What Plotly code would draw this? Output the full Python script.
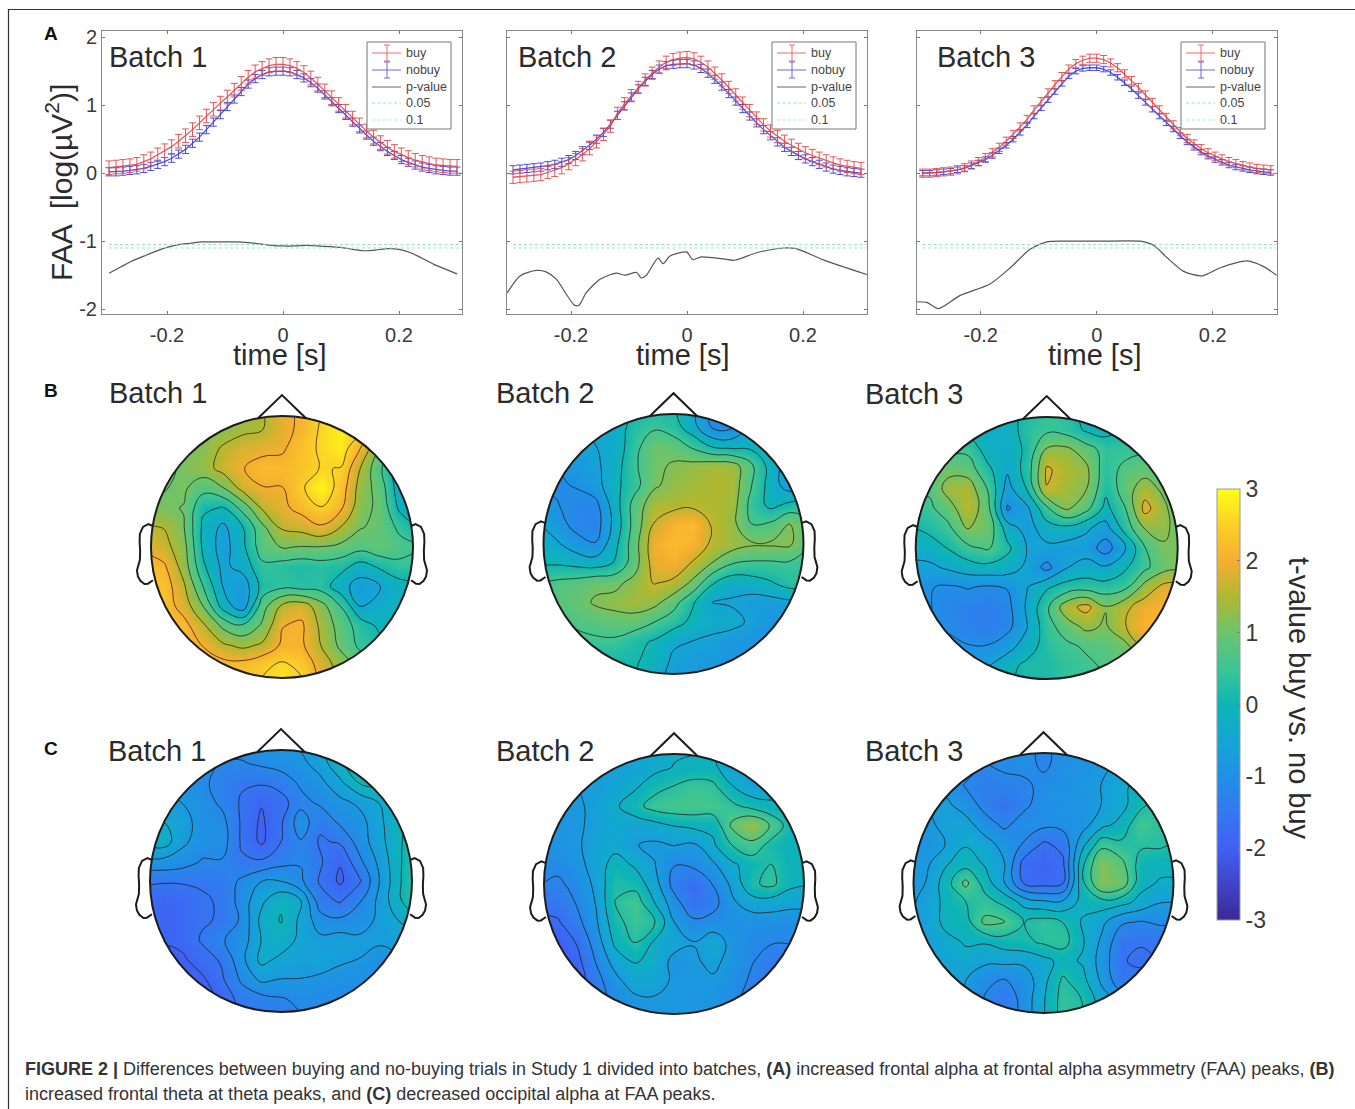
import numpy as np
import plotly.graph_objects as go

W, H = 1355, 1109
FONT = "Liberation Sans"
INK = "#2b2b2b"

# ---------- panel A data ----------
time_s = [-0.300,-0.288,-0.276,-0.264,-0.252,-0.240,-0.228,-0.216,-0.204,-0.192,-0.180,-0.168,-0.156,-0.144,-0.132,-0.120,-0.108,-0.096,-0.084,-0.072,-0.060,-0.048,-0.036,-0.024,-0.012,0.000,
          0.012,0.024,0.036,0.048,0.060,0.072,0.084,0.096,0.108,0.120,0.132,0.144,0.156,0.168,0.180,0.192,0.204,0.216,0.228,0.240,0.252,0.264,0.276,0.288,0.300]

buy_1 = [.08,.09,.10,.11,.13,.17,.21,.27,.33,.39,.47,.55,.64,.74,.84,.94,1.03,1.12,1.22,1.32,1.41,1.49,1.54,1.58,1.60,1.60,
         1.58,1.54,1.48,1.40,1.31,1.21,1.11,1.01,.91,.81,.71,.62,.53,.45,.38,.32,.27,.23,.19,.16,.14,.12,.11,.10,.10]
nobuy_1 = [.02,.02,.03,.04,.05,.07,.10,.13,.17,.22,.28,.35,.44,.53,.64,.75,.86,.98,1.09,1.20,1.31,1.39,1.45,1.49,1.50,1.50,
           1.49,1.45,1.40,1.33,1.25,1.15,1.05,.95,.85,.75,.65,.56,.47,.39,.32,.26,.20,.16,.12,.09,.07,.05,.04,.03,.03]
buy_2 = [-.06,-.05,-.04,-.03,-.02,.01,.04,.08,.14,.20,.27,.36,.46,.57,.69,.88,1.02,1.14,1.26,1.37,1.47,1.56,1.63,1.67,1.69,1.70,
         1.68,1.63,1.56,1.47,1.37,1.26,1.15,1.03,.92,.81,.71,.62,.54,.47,.41,.35,.30,.26,.22,.18,.15,.12,.10,.08,.07]
nobuy_2 = [.05,.06,.07,.08,.09,.11,.13,.16,.20,.26,.33,.41,.50,.60,.72,.85,.99,1.12,1.24,1.35,1.45,1.53,1.58,1.60,1.61,1.61,
           1.59,1.54,1.47,1.38,1.28,1.17,1.06,.95,.84,.74,.64,.55,.46,.38,.32,.26,.21,.17,.13,.09,.06,.04,.02,.01,.00]
buy_3 = [.00,.00,.01,.02,.03,.05,.08,.12,.17,.23,.30,.38,.47,.57,.68,.79,.93,1.05,1.18,1.30,1.42,1.53,1.61,1.66,1.69,1.69,
         1.67,1.62,1.55,1.46,1.36,1.26,1.15,1.04,.93,.82,.71,.61,.51,.43,.36,.30,.25,.21,.17,.14,.11,.09,.07,.06,.05]
nobuy_3 = [.00,.00,.01,.02,.03,.05,.07,.11,.15,.20,.26,.33,.41,.50,.60,.71,.84,.96,1.08,1.20,1.32,1.43,1.50,1.54,1.55,1.55,
           1.53,1.48,1.41,1.33,1.24,1.14,1.04,.94,.84,.74,.65,.55,.46,.38,.31,.25,.20,.16,.12,.09,.07,.05,.03,.02,.01]
se_buy = [0.10, 0.09, 0.06]
se_nobuy = [0.06, 0.06, 0.04]

p_t_1 = [-.30,-.28,-.26,-.24,-.22,-.20,-.18,-.16,-.14,-.12,-.10,-.08,-.06,-.04,-.02,0,.02,.04,.06,.08,.10,.12,.14,.16,.18,.20,.22,.24,.26,.28,.30]
p_1 = [-1.47,-1.38,-1.29,-1.22,-1.15,-1.09,-1.05,-1.03,-1.01,-1.01,-1.01,-1.01,-1.02,-1.04,-1.06,-1.07,-1.07,-1.06,-1.07,-1.08,-1.09,-1.12,-1.14,-1.13,-1.11,-1.12,-1.17,-1.25,-1.34,-1.41,-1.48]
p_t_2 = [-.31,-.288,-.26,-.243,-.225,-.208,-.194,-.186,-.174,-.15,-.122,-.107,-.087,-.079,-.07,-.05,-.041,-.03,-.007,0,.01,.025,.062,.082,.12,.166,.188,.234,.31]
p_2 = [-1.76,-1.51,-1.43,-1.45,-1.56,-1.78,-1.94,-1.94,-1.76,-1.56,-1.47,-1.50,-1.46,-1.54,-1.50,-1.25,-1.33,-1.22,-1.16,-1.16,-1.27,-1.23,-1.26,-1.28,-1.17,-1.10,-1.11,-1.27,-1.49]
p_t_3 = [-.31,-.293,-.273,-.236,-.184,-.149,-.115,-.086,-.052,.006,.075,.098,.121,.149,.181,.213,.259,.287,.31]
p_3 = [-1.89,-1.90,-1.99,-1.80,-1.63,-1.39,-1.12,-1.01,-1.00,-1.00,-1.00,-1.06,-1.24,-1.44,-1.51,-1.39,-1.29,-1.37,-1.50]
threshold_05 = -1.05
threshold_10 = -1.10

legend_labels = ["buy", "nobuy", "p-value", "0.05", "0.1"]
batch_labels = ["Batch 1", "Batch 2", "Batch 3"]
x_tick_vals = [-0.2, 0, 0.2]
x_tick_text = ["-0.2", "0", "0.2"]
y_tick_vals = [-2, -1, 0, 1, 2]
y_tick_text = ["-2", "-1", "0", "1", "2"]

# ---------- topographic t-values, rows from front (top) to back ----------
scalp_axis = [-1.05,-.9,-.75,-.6,-.45,-.3,-.15,0,.15,.3,.45,.6,.75,.9,1.05]

theta_1 = [
[1.0,1.0,1.0,1.0,1.2,1.3,1.5,1.9,2.1,2.5,2.7,2.5,1.0,.5,.3],
[1.0,1.0,1.0,1.1,1.2,1.4,1.5,1.9,2.1,2.6,2.8,2.6,1.2,.5,.3],
[1.0,1.0,1.1,1.2,1.6,1.8,1.9,1.95,2.3,2.6,2.8,2.0,.9,.1,-.2],
[.8,.9,1.1,1.3,1.7,2.0,2.2,2.2,2.3,2.55,2.5,1.5,.6,-.3,-.6],
[.7,1.0,1.1,.7,1.0,1.7,2.0,2.0,2.45,2.9,2.3,1.3,.8,-.3,-.7],
[1.0,1.1,1.0,.1,.0,.7,1.6,1.9,2.2,2.5,2.1,1.2,.9,-.1,-.6],
[1.6,1.5,1.05,-.1,-.6,.0,.9,1.6,1.7,1.95,1.5,1.05,.9,.4,.0],
[1.9,1.7,1.2,-.1,-.7,-.1,.8,1.05,1.0,1.0,.9,.7,.9,.7,.5],
[2.3,2.1,1.3,.1,-.6,-.3,.4,.3,.2,.3,.2,-.2,.1,.4,.4],
[2.3,2.3,1.6,.5,-.5,-.8,.2,.4,.3,.3,-.3,-.7,-.5,-.2,-.1],
[2.3,2.3,1.8,1.0,-.2,-.8,.8,1.6,1.8,1.2,.5,-.5,-.3,-.1,-.1],
[2.3,2.3,2.2,1.6,.9,.6,1.1,2.0,2.1,1.4,.8,.3,-.1,-.1,-.1],
[2.3,2.3,2.2,2.0,1.6,1.4,1.6,2.1,2.1,1.5,.9,.4,.2,.2,.2],
[2.3,2.3,2.3,2.3,2.2,2.2,2.4,2.6,2.4,1.8,1.3,.8,.5,.5,.5],
[2.3,2.3,2.3,2.3,2.3,2.3,2.6,2.8,2.6,1.9,1.3,.9,.5,.5,.5]]

theta_2 = [
[-.5,-.5,-.5,-.4,-.3,.0,.1,.1,-.4,-1.2,-1.2,-.7,-.5,-.5,-.5],
[-.5,-.5,-.5,-.4,-.3,.3,.5,.3,-.3,-1.1,-1.1,-.5,-.5,-.5,-.5],
[-.7,-.7,-.6,-.5,-.3,.4,1.0,.9,.5,.0,-.1,-.1,-.3,-.5,-.5],
[-1.0,-1.0,-.8,-.6,-.2,.5,1.0,1.2,1.3,1.45,1.4,.7,-.2,-.8,-.8],
[-1.1,-1.1,-1.0,-.7,-.1,.4,1.05,1.3,1.4,1.5,1.45,.6,-.2,-.8,-.7],
[-.6,-1.0,-1.2,-1.2,-.2,.8,1.45,1.5,1.55,1.5,1.4,.4,-.1,.2,.3],
[-.4,-.8,-1.2,-1.3,-.3,.8,1.7,2.1,2.2,1.6,1.3,.6,.7,1.2,.7],
[-.3,-.4,-.8,-1.0,-.1,.9,2.0,2.2,2.1,1.55,1.4,1.2,1.2,1.2,.6],
[.0,.0,-.1,-.2,.1,.9,1.9,2.05,1.6,1.1,.6,.5,.5,.5,.4],
[.5,.7,.8,1.0,1.0,1.3,1.7,1.55,1.0,.1,-.3,-.2,.0,.3,.3],
[.6,.8,.9,1.2,1.3,1.4,1.3,.8,.1,-.5,-.55,-.7,-.7,-.6,-.6],
[.5,.5,.7,.8,.9,.9,.6,.3,-.1,-.3,-.3,-.6,-.9,-.9,-.9],
[.2,.2,.4,.5,.5,.2,.0,-.4,-.5,-.6,-.8,-.9,-.9,-.9,-.9],
[.0,.0,.1,.1,.1,.1,-.1,-.6,-.7,-.8,-.9,-1.0,-1.0,-1.0,-1.0],
[.0,.0,.0,.0,.0,.0,-.3,-.7,-.8,-.9,-1.0,-1.0,-1.0,-1.0,-1.0]]

theta_3 = [
[.3,.3,.2,.0,-.2,-.1,.2,.4,.3,-.1,-.2,.1,.3,.3,.3],
[.3,.3,.1,-.1,-.3,-.2,.3,.5,.4,.0,-.1,.2,.3,.3,.3],
[.5,.5,.5,.5,-.2,-.3,.2,1.25,1.3,.9,.4,.4,.5,.3,.2],
[.8,.8,1.0,.9,.2,-.4,.3,1.8,1.5,1.3,.3,.8,.9,.4,.3],
[.8,.7,1.4,1.5,.6,-.7,.1,1.7,1.4,1.2,.2,.9,1.5,1.0,.2],
[.3,.5,.9,1.6,.8,-1.1,-.6,.5,1.25,.8,-.1,.6,1.9,1.3,.5],
[.0,.2,.5,1.2,1.0,-.2,-.7,-.2,-.1,-.4,-.7,.3,1.2,1.3,.8],
[-.3,-.2,.1,.5,.7,.2,-.5,-.6,-.7,-.7,-1.3,-.5,.6,1.1,1.1],
[-.6,-.6,-.4,-.2,-.1,-.2,-.6,-1.2,-.5,-.3,-.4,.0,.5,1.0,1.2],
[-.7,-1.0,-1.1,-1.0,-1.1,-1.0,-.5,.0,.3,.4,.3,.5,1.4,1.9,1.9],
[-.8,-1.0,-1.2,-1.3,-1.4,-1.2,-.4,.5,1.5,1.9,1.2,1.6,2.0,2.1,2.1],
[-.9,-1.0,-1.1,-1.3,-1.4,-1.2,-.5,.4,.9,1.3,1.1,1.7,2.1,2.2,2.2],
[-.9,-.9,-.9,-1.0,-1.0,-.7,-.2,.3,.5,.7,.8,1.0,1.8,1.8,1.8],
[-.8,-.8,-.8,-.7,-.5,-.1,.2,.2,.4,.5,.7,.9,1.0,1.0,1.0],
[-.8,-.8,-.8,-.5,-.3,.0,.2,.2,.4,.5,.6,.8,1.0,1.0,1.0]]

alpha_1 = [
[-1.0,-1.0,-1.0,-1.0,-1.0,-1.0,-.9,-.8,-.7,-.5,.1,.5,.5,.5,.5],
[-1.0,-1.0,-1.0,-1.0,-1.2,-1.2,-1.1,-1.0,-.9,-.6,-.1,.3,.4,.4,.4],
[-.9,-.9,-1.0,-1.1,-1.3,-1.5,-1.5,-1.4,-1.1,-.9,-.5,.0,.1,.1,.1],
[-.7,-.7,-.8,-1.0,-1.25,-1.6,-1.9,-1.7,-1.3,-1.1,-.9,-.7,-.4,-.3,-.2],
[-.4,-.4,-.6,-1.0,-1.05,-1.6,-2.0,-1.6,-.95,-1.45,-1.1,-.95,-.5,-.1,.1],
[-.3,-.2,-.7,-1.0,-1.0,-1.6,-2.0,-1.55,-1.2,-1.6,-1.5,-1.0,-.55,-.1,.3],
[-.9,-.9,-1.0,-1.2,-1.2,-1.5,-1.5,-1.3,-1.2,-1.5,-1.9,-1.25,-.7,-.1,.4],
[-1.5,-1.5,-1.5,-1.5,-1.4,-1.1,-.8,-.8,-1.1,-1.6,-2.0,-1.6,-.8,-.1,.5],
[-1.7,-1.9,-1.8,-1.6,-1.5,-1.0,-.5,-.1,-.4,-1.4,-1.6,-1.2,-.7,-.1,.4],
[-1.7,-1.9,-1.8,-1.6,-1.5,-1.1,-.3,.0,-.5,-1.0,-1.1,-1.0,-.7,-.4,-.1],
[-1.8,-1.9,-1.8,-1.5,-1.2,-1.0,-.4,-.2,-.5,-.7,-.6,-.7,-.7,-.6,-.6],
[-1.9,-2.0,-2.0,-1.7,-1.5,-.9,-.3,-.5,-.6,-.5,-.7,-.8,-1.0,-.9,-.9],
[-2.0,-2.0,-2.1,-2.0,-1.6,-1.1,-.7,-.8,-.8,-.9,-1.0,-1.0,-1.1,-1.0,-1.0],
[-2.0,-2.0,-2.1,-2.2,-1.8,-1.4,-1.3,-1.2,-1.1,-1.1,-1.1,-1.1,-1.1,-1.1,-1.1],
[-2.0,-2.0,-2.1,-2.2,-1.9,-1.5,-1.4,-1.6,-1.2,-1.1,-1.1,-1.1,-1.1,-1.1,-1.1]]

alpha_2 = [
[-.6,-.6,-.6,-.6,-.5,-.4,-.4,-.3,-.3,-.3,-.8,-1.0,-1.0,-1.0,-1.0],
[-.6,-.6,-.6,-.6,-.6,-.5,-.4,-.2,-.1,-.1,-.6,-.9,-.9,-.9,-.9],
[-.7,-.7,-.7,-.7,-.5,-.3,.1,.3,.5,.4,-.2,-.6,-.5,-.5,-.5],
[-.8,-.8,-.8,-.6,-.3,.1,.5,.6,.6,.6,.4,.1,-.1,-.1,-.1],
[-.9,-.9,-.8,-.6,-.4,-.5,-.4,-.2,-.1,-.1,.9,1.4,.7,.0,.0],
[-.9,-.9,-.8,-.5,-.4,-.7,-.8,-.7,-.8,-.3,.3,.6,.1,-.1,-.1],
[-1.0,-1.1,-.9,-.5,.0,-.3,-.7,-1.2,-1.1,-.8,-.3,.0,.3,-.1,-.1],
[-1.2,-1.3,-1.1,-.6,.2,.1,-.5,-1.4,-1.7,-1.2,-.6,.2,.4,-.1,-.2],
[-1.6,-1.5,-1.2,-.7,.3,.6,-.2,-1.0,-1.6,-1.4,-.8,-.5,-.5,-.6,-.6],
[-1.8,-1.8,-1.4,-.8,.1,.5,.3,-.7,-1.1,-1.0,-1.0,-1.0,-1.0,-1.0,-1.0],
[-2.0,-2.0,-1.7,-1.0,-.1,.3,-.3,-.5,-.7,-.4,-.9,-1.1,-1.2,-1.2,-1.2],
[-2.2,-2.2,-1.9,-1.2,-.5,-.2,-.3,-.9,-.8,-.6,-.9,-1.2,-1.4,-1.5,-1.5],
[-2.2,-2.2,-2.0,-1.4,-.9,-.4,-.5,-.8,-.8,-.8,-1.0,-1.3,-1.5,-1.6,-1.6],
[-2.0,-2.0,-1.8,-1.4,-1.1,-.9,-.8,-.8,-.8,-.9,-1.1,-1.4,-1.5,-1.5,-1.5],
[-2.0,-2.0,-1.8,-1.4,-1.1,-1.0,-.9,-.8,-.8,-.9,-1.1,-1.3,-1.4,-1.4,-1.4]]

alpha_3 = [
[-1.0,-1.0,-1.0,-1.0,-1.0,-1.1,-1.0,-1.3,-1.0,-1.0,-.9,-.7,-.5,-.3,-.3],
[-1.0,-1.0,-1.0,-1.0,-1.2,-1.1,-1.0,-1.25,-1.0,-.95,-.8,-.6,-.3,-.1,-.1],
[-.9,-.9,-.9,-1.2,-1.4,-1.3,-1.3,-1.0,-1.0,-.8,-.7,-.4,.0,.3,.3],
[-.7,-.7,-.6,-.95,-1.3,-1.6,-1.25,-1.0,-.95,-.9,-.7,-.4,.1,.5,.5],
[-.8,-.8,-.6,-.5,-1.0,-1.25,-1.0,-1.05,-1.0,-.9,-.4,-.1,.6,.3,.3],
[-1.0,-.9,-.7,-.3,-.5,-.9,-1.2,-1.7,-1.5,-.4,.5,.3,.3,.3,.1],
[-.9,-.8,-.3,.0,-.3,-.7,-1.8,-1.9,-1.7,.1,1.2,.8,.0,-.1,-.1],
[-.8,-.7,.0,.8,.0,-.7,-1.68,-1.8,-1.65,.1,1.2,1.0,-.1,-.3,-.3],
[-.8,-.6,-.1,.2,.4,.1,-.4,-.6,-.6,-.1,.0,-.1,-.4,-.7,-.7],
[-.8,-.6,-.1,.0,.8,.7,.2,.4,.2,-.3,-.6,-1.1,-1.2,-1.1,-1.1],
[-.8,-.6,-.4,-.2,-.2,.0,.1,.3,.4,-.2,-.8,-1.5,-1.6,-1.5,-1.5],
[-.8,-.7,-.5,-.4,-.6,-.6,-.6,-.4,-.1,-.3,-.9,-1.6,-1.7,-1.6,-1.6],
[-.7,-.6,-.5,-.7,-1.1,-1.2,-1.0,-.4,.3,-.1,-.8,-1.5,-1.5,-1.5,-1.5],
[-.6,-.6,-.5,-.7,-1.2,-1.5,-1.0,-.3,.4,.2,-.5,-.9,-1.0,-1.0,-1.0],
[-.6,-.6,-.5,-.7,-1.2,-1.4,-1.0,-.3,.4,.2,-.4,-.8,-.9,-.9,-.9]]

cbar_ticks = [-3, -2, -1, 0, 1, 2, 3]
cbar_tick_text = ["-3", "-2", "-1", "0", "1", "2", "3"]
cbar_title = "t-value buy vs. no buy"

parula_like = [[0.0,"#3A2A95"],[1/12,"#4044C8"],[2/12,"#4060F5"],[3/12,"#3478F0"],[4/12,"#2090E5"],[5/12,"#14A5D5"],
               [6/12,"#0DB5B5"],[7/12,"#3CC595"],[8/12,"#6CC46C"],[9/12,"#B0B830"],[10/12,"#F5AE30"],[11/12,"#FBD028"],[1.0,"#FFFF14"]]

def px(x): return x / W
def py(y): return 1 - y / H

fig = go.Figure()
layout = dict(width=W, height=H, paper_bgcolor="white", plot_bgcolor="white", showlegend=False,
              margin=dict(l=0, r=0, t=0, b=0, autoexpand=False), font=dict(family=FONT, color=INK))
shapes, annots = [], []

def text(x, y, s, size, anchor="left", color=INK, angle=0):
    if anchor == "left":
        x -= 2
    annots.append(dict(x=px(x), y=py(y), xref="paper", yref="paper", text=s, showarrow=False, xanchor=anchor, yanchor="middle",
                       font=dict(family=FONT, size=size, color=color), textangle=angle, align="left"))

def pline(x0, y0, x1, y1, color, width=1, dash="solid"):
    shapes.append(dict(type="line", xref="paper", yref="paper", x0=px(x0), y0=py(y0), x1=px(x1), y1=py(y1),
                       line=dict(color=color, width=width, dash=dash)))

axis_no = 0
def next_axes():
    global axis_no
    axis_no += 1
    s = "" if axis_no == 1 else str(axis_no)
    return "x" + s, "y" + s, "xaxis" + s, "yaxis" + s

# ---------- panel A ----------
RED, BLUE = "rgba(226,70,70,0.9)", "rgba(60,60,214,0.9)"
DASH = "3px,2.5px"
panel_lefts = [102, 507, 917]
panel_right = [462, 867, 1277]
batch_x = [109, 518, 937]
time_x = [279, 683, 1094]
series = [(buy_1, nobuy_1, p_t_1, p_1), (buy_2, nobuy_2, p_t_2, p_2), (buy_3, nobuy_3, p_t_3, p_3)]
for i, (b, n, pt, pv) in enumerate(series):
    xa, ya, xk, yk = next_axes()
    fig.add_trace(go.Scatter(x=time_s, y=n, name="nobuy", mode="lines", xaxis=xa, yaxis=ya, line=dict(color=BLUE, width=1.3),
                             error_y=dict(type="constant", value=se_nobuy[i], color=BLUE, thickness=1, width=3.5)))
    fig.add_trace(go.Scatter(x=time_s, y=b, name="buy", mode="lines", xaxis=xa, yaxis=ya, line=dict(color=RED, width=1.3),
                             error_y=dict(type="constant", value=se_buy[i], color=RED, thickness=1, width=3.5)))
    fig.add_trace(go.Scatter(x=pt, y=pv, name="p-value", mode="lines", xaxis=xa, yaxis=ya,
                             line=dict(color="#555", width=1.2, shape="spline", smoothing=0.7)))
    fig.add_trace(go.Scatter(x=[-0.3, 0.31], y=[threshold_05]*2, name="0.05", mode="lines", xaxis=xa, yaxis=ya,
                             line=dict(color="#8fe3a0", width=1, dash=DASH)))
    fig.add_trace(go.Scatter(x=[-0.3, 0.31], y=[threshold_10]*2, name="0.1", mode="lines", xaxis=xa, yaxis=ya,
                             line=dict(color="#8fe8e8", width=1, dash=DASH)))
    zero = [283, 687, 1096.7][i]
    layout[xk] = dict(domain=[px(panel_lefts[i]), px(panel_right[i])], anchor=ya,
                      range=[(panel_lefts[i]-zero)/580, (panel_right[i]-zero)/580],
                      tickvals=x_tick_vals, ticktext=x_tick_text, ticks="inside", ticklen=3, tickcolor="#777",
                      showline=True, linecolor="#888", linewidth=1, mirror="ticks", showgrid=False, zeroline=False,
                      ticklabelstandoff=3, tickfont=dict(size=20, color="#3a3a3a"))
    layout[yk] = dict(domain=[py(314), py(31)], anchor=xa, range=[-2.07, 2.09],
                      tickvals=y_tick_vals, ticktext=y_tick_text, showticklabels=(i == 0), ticks="inside", ticklen=3, tickcolor="#777",
                      showline=True, linecolor="#888", linewidth=1, mirror="ticks", showgrid=False, zeroline=False,
                      tickfont=dict(size=20, color="#3a3a3a"))
    # hand-placed legend box
    bx = [367, 772, 1181][i]
    shapes.append(dict(type="rect", xref="paper", yref="paper", x0=px(bx), x1=px(bx+84), y0=py(129), y1=py(42),
                       fillcolor="white", line=dict(color="#777", width=1)))
    rows = [53, 70, 87, 103, 120]
    colors = [("#e86a6a", "solid"), ("#6a6ad8", "solid"), ("#666", "solid"), ("#9be8ab", DASH), ("#9bebeb", DASH)]
    for r, lab, (c, d) in zip(rows, legend_labels, colors):
        pline(bx+5, r, bx+34, r, c, 1, d)
        text(bx+39, r, lab, 12.5, color="#444")
    for r, c in zip(rows[:2], colors[:2]):
        pline(bx+20, r-8, bx+20, r+8, c[0])
        pline(bx+17, r-8, bx+23, r-8, c[0])
        pline(bx+17, r+8, bx+23, r+8, c[0])
    text(batch_x[i], 57, batch_labels[i], 29)
    text(time_x[i], 355, "time [s]", 29, anchor="center")

text(59, 183, "FAA  [log(µV<sup>2</sup>)]", 30, anchor="center", angle=-90)

# ---------- topographic maps ----------
heads = [
    (theta_1, 282, 547, 131, -.48, .50, 7), (theta_2, 673.5, 544, 130, -1.03, .54, 6), (theta_3, 1046.7, 548, 131, -1.03, .55, 6),
    (alpha_1, 281, 881, 131, -1.93, .38, 6), (alpha_2, 674, 884, 130, -1.72, .50, 6), (alpha_3, 1043.5, 883, 130, -1.63, .46, 6),
]
SPAN = 1.3
ang = np.linspace(0, 2*np.pi, 181)[:-1]
hole = "M " + " L ".join(f"{np.cos(a):.4f} {np.sin(a):.4f}" for a in ang) + " Z"
ear_r = [(.985,.16),(1.02,.175),(1.061,.153),(1.085,.10),(1.087,.04),(1.083,-.03),(1.085,-.10),(1.107,-.178),(1.10,-.225),(1.081,-.258),(1.05,-.282),(1.023,-.28),(.985,-.254)]
for k, (z, cx, cy, r, lev0, step, nlev) in enumerate(heads):
    xa, ya, xk, yk = next_axes()
    fig.add_trace(go.Contour(x=scalp_axis, y=scalp_axis, z=z[::-1], xaxis=xa, yaxis=ya, coloraxis="coloraxis",
                             contours=dict(coloring="heatmap", start=lev0, end=lev0 + step*(nlev-1), size=step, showlines=True),
                             line=dict(color="rgba(25,25,25,0.8)", width=0.9, smoothing=1.2), hoverinfo="skip"))
    layout[xk] = dict(domain=[px(cx-SPAN*r), px(cx+SPAN*r)], range=[-SPAN, SPAN], visible=False, anchor=ya)
    layout[yk] = dict(domain=[py(cy+SPAN*r), py(cy-SPAN*r)], range=[-SPAN, SPAN], visible=False, anchor=xa)
    shapes.append(dict(type="path", xref=xa, yref=ya, line=dict(width=0), fillcolor="white",
                       path=f"M {-SPAN} {-SPAN} L {SPAN} {-SPAN} L {SPAN} {SPAN} L {-SPAN} {SPAN} Z {hole}"))
    shapes.append(dict(type="circle", xref=xa, yref=ya, x0=-1, x1=1, y0=-1, y1=1, line=dict(color="#1c1c1c", width=2)))
    head_line = dict(color="#1c1c1c", width=2)
    shapes.append(dict(type="path", xref=xa, yref=ya, line=head_line, path="M -0.183 0.983 L 0 1.16 L 0.183 0.983"))
    right = "M " + " L ".join(f"{a} {b}" for a, b in ear_r)
    left = "M " + " L ".join(f"{-a} {b}" for a, b in ear_r)
    shapes.append(dict(type="path", xref=xa, yref=ya, line=head_line, path=right))
    shapes.append(dict(type="path", xref=xa, yref=ya, line=head_line, path=left))

for x, y, s in [(109, 393, "Batch 1"), (496, 393, "Batch 2"), (865, 394, "Batch 3"),
                (108, 751, "Batch 1"), (496, 751, "Batch 2"), (865, 751, "Batch 3")]:
    text(x, y, s, 29)

layout["coloraxis"] = dict(cmin=-3, cmax=3, colorscale=parula_like,
    colorbar=dict(x=px(1217), xanchor="left", xpad=0, ypad=0, y=py(704.5), yanchor="middle", thickness=23, thicknessmode="pixels",
                  len=431/H, lenmode="fraction", outlinecolor="#999", outlinewidth=1, tickvals=cbar_ticks, ticktext=cbar_tick_text,
                  ticks="inside", ticklen=3, tickcolor="#777", tickfont=dict(size=23, color="#3a3a3a")))
text(1299, 698, cbar_title, 29, anchor="center", angle=90)

# ---------- letters, frame, caption ----------
for y, s in [(34, "A"), (391, "B"), (748, "C")]:
    text(51, y, f"<b>{s}</b>", 19, anchor="center", color="#111")
pline(8, 9.5, W, 9.5, "#333", 1.2)
pline(8.5, 9, 8.5, H, "#333", 1.2)
text(25, 1069, "<b>FIGURE 2 |</b> Differences between buying and no-buying trials in Study 1 divided into batches, <b>(A)</b> increased frontal alpha at frontal alpha asymmetry (FAA) peaks, <b>(B)</b>", 18, color="#333")
text(25, 1094, "increased frontal theta at theta peaks, and <b>(C)</b> decreased occipital alpha at FAA peaks.", 18, color="#333")

layout["shapes"] = shapes
layout["annotations"] = annots
fig.update_layout(**layout)
fig.write_html("out.html", config={"displayModeBar": False},
               post_script="document.body.style.margin='0';document.documentElement.style.overflow='hidden';")
